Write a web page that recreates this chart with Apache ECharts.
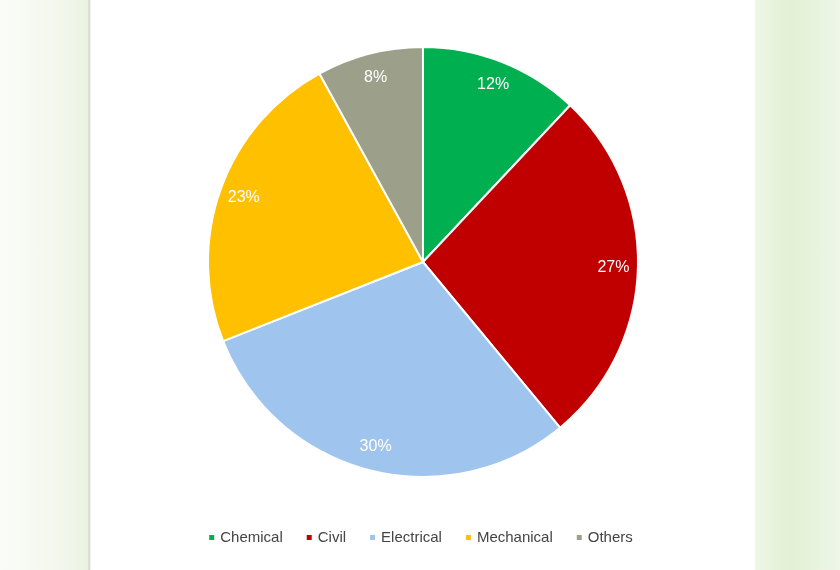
<!DOCTYPE html>
<html><head><meta charset="utf-8">
<script src="https://cdn.jsdelivr.net/npm/echarts@6/dist/echarts.min.js"></script>
<style>
html,body{margin:0;padding:0;}
body{width:840px;height:570px;position:relative;
background:linear-gradient(to right,#fbfcf8 0px,#f1f6ea 70px,#e9f2df 88px,#cfcfcf 89px,#ffffff 91px,#ffffff 754px,#eef6e6 756px,#e2f0d4 790px,#eef6e8 840px);}
#c{position:absolute;left:0;top:0;width:840px;height:570px;}
</style></head><body>
<div id="c"></div>
<script>
const categories=['Chemical','Civil','Electrical','Mechanical','Others'];
const values=[12,27,30,23,8];
const colors=['#00B050','#C00000','#9FC5EE','#FFC000','#9C9F89'];
const data=categories.map((n,i)=>({name:n,value:values[i],itemStyle:{color:colors[i]}}));
const chart=echarts.init(document.getElementById('c'));
chart.setOption({
 backgroundColor:'transparent',
 legend:{bottom:20,left:'center',itemWidth:7,itemHeight:7,icon:'rect',itemGap:22,
  textStyle:{color:'#444',fontSize:15,fontFamily:'Liberation Sans, Arial'},data:categories},
 series:[
  {type:'pie',center:[423,262],radius:[0,215],startAngle:90,clockwise:true,
   data:data,label:{show:false},labelLine:{show:false},
   itemStyle:{borderColor:'#fff',borderWidth:2},emphasis:{disabled:true}},
  {type:'pie',center:[423,262],radius:[160,215],startAngle:90,clockwise:true,silent:true,
   data:data.map(d=>({name:d.name,value:d.value,itemStyle:{color:'transparent'}})),
   label:{show:true,position:'inside',formatter:'{c}%',color:'#fff',fontSize:16,fontFamily:'Liberation Sans, Arial'},
   labelLine:{show:false},emphasis:{disabled:true},legendHoverLink:false}
 ]
});
</script></body></html>
